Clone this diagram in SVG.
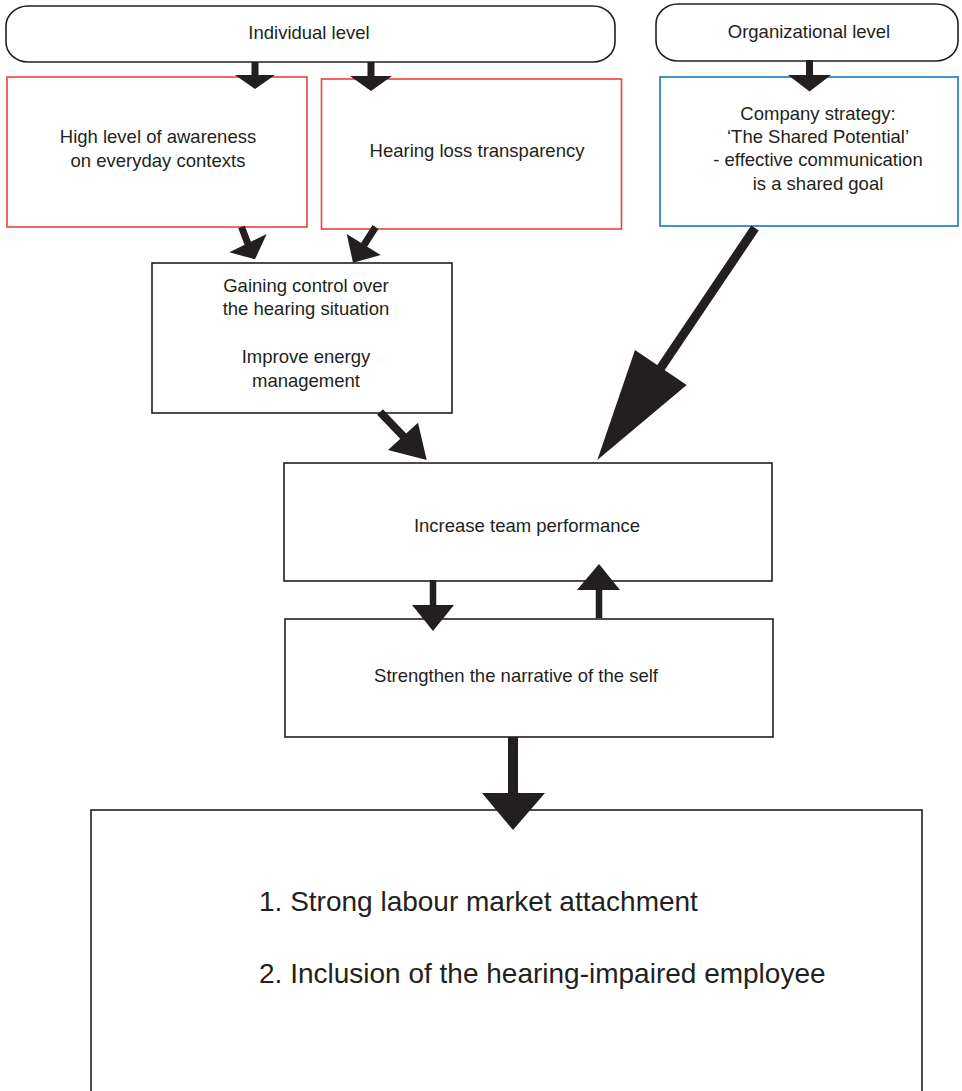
<svg xmlns="http://www.w3.org/2000/svg" width="962" height="1091" viewBox="0 0 962 1091">
<style>
text{font-family:"Liberation Sans",Arial,sans-serif;fill:#231f20;font-size:18.5px;text-anchor:middle}
.big{font-size:28px;text-anchor:start}
.rnd{fill:#fff;stroke:#231f20;stroke-width:1.6}
.red{fill:#fff;stroke:#ef4136;stroke-width:1.6}
.blue{fill:#fff;stroke:#1c75bc;stroke-width:1.6}
.box{fill:#fff;stroke:#231f20;stroke-width:1.6}
.shaft{stroke:#231f20;fill:none}
.head{fill:#231f20}
</style>
<rect width="962" height="1091" fill="#fff"/>
<g id="individual-level">
<rect class="rnd" x="6" y="6" width="609" height="56" rx="22" ry="20"/>
<text x="309" y="39">Individual level</text>
</g>
<g id="organizational-level">
<rect class="rnd" x="656" y="4" width="302" height="57" rx="22" ry="20"/>
<text x="809" y="38">Organizational level</text>
</g>
<g id="awareness">
<rect class="red" x="7" y="77" width="300" height="150"/>
<text x="158" y="143">High level of awareness</text>
<text x="158" y="167">on everyday contexts</text>
</g>
<g id="transparency">
<rect class="red" x="321.5" y="79" width="300" height="150"/>
<text x="477" y="157">Hearing loss transparency</text>
</g>
<g id="strategy">
<rect class="blue" x="660" y="77" width="298" height="149"/>
<text x="818" y="120">Company strategy:</text>
<text x="818" y="143">‘The Shared Potential’</text>
<text x="818" y="166">- effective communication</text>
<text x="818" y="190">is a shared goal</text>
</g>
<g id="control">
<rect class="box" x="152" y="263" width="300" height="150"/>
<text x="306" y="292">Gaining control over</text>
<text x="306" y="315">the hearing situation</text>
<text x="306" y="363">Improve energy</text>
<text x="306" y="387">management</text>
</g>
<g id="team-performance">
<rect class="box" x="284" y="463" width="488" height="118"/>
<text x="527" y="532">Increase team performance</text>
</g>
<g id="narrative">
<rect class="box" x="285" y="619" width="488" height="118"/>
<text x="516" y="682">Strengthen the narrative of the self</text>
</g>
<g id="outcomes">
<rect class="box" x="91" y="810" width="831" height="300"/>
<text class="big" x="259" y="911">1. Strong labour market attachment</text>
<text class="big" x="259" y="983">2. Inclusion of the hearing-impaired employee</text>
</g>
<g id="connectors">
<g><line class="shaft" stroke-width="7" x1="255" y1="62" x2="255" y2="76"/><polygon class="head" points="235,75 275,75 255,89"/></g>
<g><line class="shaft" stroke-width="7" x1="371" y1="62" x2="371" y2="77"/><polygon class="head" points="350,76 392,76 371,91"/></g>
<g><line class="shaft" stroke-width="7" x1="809.5" y1="60" x2="809.5" y2="76"/><polygon class="head" points="788,75 831,75 809.5,91.5"/></g>
<g><line class="shaft" stroke-width="7" x1="241.5" y1="227" x2="248" y2="244"/><polygon class="head" points="229.3,252.3 266.7,234 255,259.3"/></g>
<g><line class="shaft" stroke-width="7" x1="375.5" y1="227" x2="364" y2="245"/><polygon class="head" points="346.7,234 380.7,255 353,262.7"/></g>
<g><line class="shaft" stroke-width="8" x1="380" y1="412" x2="404" y2="437"/><polygon class="head" points="388,450 418,422.7 426.7,460"/></g>
<g><line class="shaft" stroke-width="9" x1="755" y1="228" x2="660" y2="369"/><polygon class="head" points="635,350 686.7,385 597.3,460"/></g>
<g><line class="shaft" stroke-width="6.5" x1="433" y1="580" x2="433" y2="606"/><polygon class="head" points="412,605 454,605 433,631"/></g>
<g><line class="shaft" stroke-width="6.5" x1="599" y1="618" x2="599" y2="589"/><polygon class="head" points="577,590 620,590 599,564"/></g>
<g><line class="shaft" stroke-width="10" x1="513" y1="737" x2="513" y2="794"/><polygon class="head" points="482,793 545,793 513,830"/></g>
</g>
</svg>
